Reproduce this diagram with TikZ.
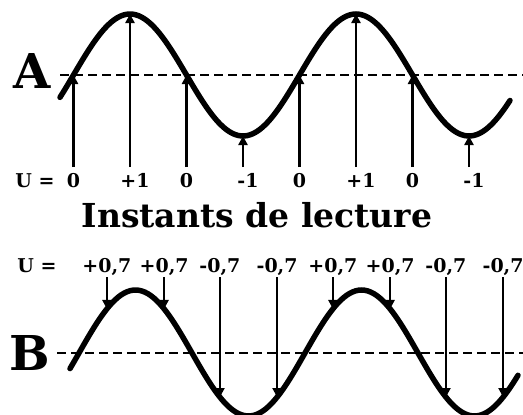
\documentclass[tikz,border=0pt]{standalone}
\usepackage{fontspec}
\setmainfont{DejaVu Serif}
\usetikzlibrary{arrows.meta}
\tikzset{
  wave/.style={line width=5.5pt, line cap=round},
  axis/.style={line width=2pt, dash pattern=on 9pt off 5pt},
  reading/.style={line width=2.4pt, -{Triangle[width=9pt,length=9pt]}},
  value/.style={font=\bfseries\fontsize{19}{19}\selectfont, anchor=base, inner sep=0pt},
  letter/.style={font=\bfseries\fontsize{48}{48}\selectfont, anchor=base, inner sep=0pt},
}
\begin{document}
\begin{tikzpicture}[x=1pt, y=-1pt,
    declare function={wa(\t)=75-61*cos((\t-130)/226*360);
                      wb(\t)=353-63*cos((\t-135.5)/226*360);}]
  \useasboundingbox (0,0) rectangle (523,415);

  % signal A, read at its peaks, troughs and zeros
  \node[letter] (A) at (32,88) {A};
  \coordinate (a0) at (60,75);
  \coordinate (a1) at (523,75);
  \draw[axis] (a0) -- (a1);
  \draw[wave, domain=60:510, samples=150, smooth] plot (\x,{wa(\x)});
  \node[value] (UA) at (35,187) {U =};
  \foreach \x/\u/\d [count=\i] in {73.5/0/0, 130/+1/5, 186.5/0/0, 243/-1/5,
                                   299.5/0/0, 356/+1/5, 412.5/0/0, 469/-1/5} {
    \node[value] (ua\i) at (\x+\d,187) {\u};
    \coordinate (sa\i) at (\x,167);
    \coordinate (ta\i) at (\x,{wa(\x)});
    \draw[reading] (sa\i) -- (ta\i);
  }

  \node[font=\bfseries\fontsize{33}{33}\selectfont, anchor=base, inner sep=0pt]
    (title) at (257,227) {Instants de lecture};

  % signal B, read between them
  \node[letter] (B) at (30,370) {B};
  \coordinate (b0) at (57,353);
  \coordinate (b1) at (523,353);
  \draw[axis] (b0) -- (b1);
  \draw[wave, domain=70:518, samples=150, smooth] plot (\x,{wb(\x)});
  \node[value] (UB) at (37,272) {U =};
  \foreach \x/\s [count=\i] in {106.9/+, 164.1/+, 219.9/-, 277.1/-,
                                332.9/+, 390.1/+, 445.9/-, 503.1/-} {
    \node[value] (ub\i) at (\x,272) {\s0,7};
    \coordinate (sb\i) at (\x,277);
    \coordinate (tb\i) at (\x,{wb(\x)});
    \draw[reading] (sb\i) -- (tb\i);
  }
\end{tikzpicture}
\end{document}
